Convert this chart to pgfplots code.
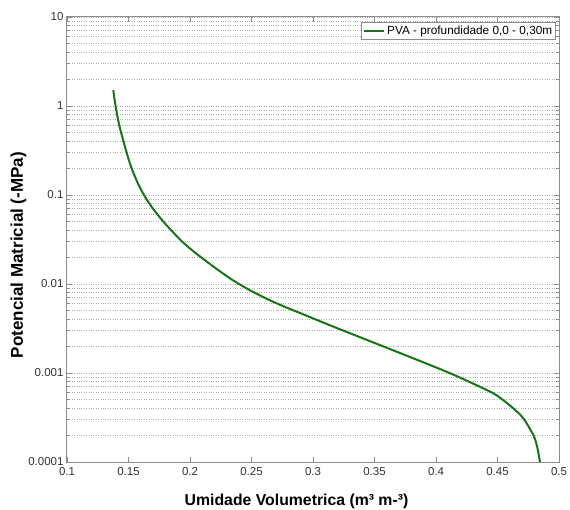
\documentclass[border=0pt]{standalone}
\usepackage{fontspec}
\setmainfont{Liberation Sans}
\usepackage{pgfplots}
\pgfplotsset{compat=1.18}
\definecolor{curvegreen}{RGB}{25,115,25}
\definecolor{gridgray}{RGB}{175,175,175}
\definecolor{axisgray}{RGB}{140,140,140}
\begin{document}
\begin{tikzpicture}
\path[use as bounding box] (-67pt,-48pt) rectangle (503pt,462pt);
\begin{axis}[
  scale only axis,
  width=492pt, height=445pt,
  xmin=0.1, xmax=0.5,
  ymode=log, ymin=1e-4, ymax=10,
  xtick={0.1,0.15,0.2,0.25,0.3,0.35,0.4,0.45,0.5},
  xticklabels={0.1,0.15,0.2,0.25,0.3,0.35,0.4,0.45,0.5},
  ytick={1e-4,1e-3,1e-2,1e-1,1,10},
  yticklabels={0.0001,0.001,0.01,0.1,1,10},
  /pgf/number format/assume math mode=true,
  tick label style={font=\fontsize{11.5}{13}\selectfont, text=black!80},
  xticklabel style={yshift=-2pt},
  tick align=inside,
  tick pos=both,
  major tick length=5pt,
  minor tick length=3pt,
  every tick/.style={axisgray, line width=0.6pt},
  axis line style={axisgray, line width=1pt},
  ymajorgrids, yminorgrids,
  major grid style={gridgray, dotted, line width=0.6pt},
  minor grid style={gridgray, dotted, line width=0.6pt},
  xlabel={\textbf{Umidade Volumetrica (m³ m-³)}},
  ylabel={\textbf{Potencial Matricial (-MPa)}},
  xlabel style={at={(ticklabel cs:0.4665)}, font=\fontsize{15.8}{17}\selectfont, yshift=-12pt},
  ylabel style={at={(ticklabel cs:0.465)}, font=\fontsize{17}{18}\selectfont, yshift=-5pt},
  legend style={at={(rel axis cs:0.994,0.989)}, anchor=north east,
    font=\fontsize{11.8}{13}\selectfont, draw=axisgray, line width=0.6pt,
    inner sep=1.5pt, row sep=0pt},
  legend image code/.code={\draw[#1] (0pt,0pt) -- (20pt,0pt);},
  legend cell align=left,
]
\addplot[curvegreen, line width=2pt, smooth, tension=0.5] coordinates {
(0.13764,1.513)
(0.13886,1.138)
(0.14049,0.834)
(0.14244,0.6114)
(0.14496,0.4483)
(0.14984,0.2585)
(0.15309,0.1910)
(0.15732,0.1382)
(0.16098,0.1095)
(0.16480,0.08902)
(0.16951,0.07145)
(0.17423,0.05886)
(0.17967,0.04783)
(0.18642,0.03791)
(0.19309,0.03042)
(0.20000,0.02506)
(0.20813,0.02037)
(0.22171,0.01474)
(0.23520,0.01095)
(0.24878,0.008497)
(0.26236,0.006821)
(0.27585,0.005630)
(0.28943,0.004722)
(0.31382,0.003436)
(0.34090,0.002441)
(0.36805,0.001735)
(0.39512,0.001230)
(0.41138,0.0009948)
(0.42764,0.0007894)
(0.44659,0.0005914)
(0.45447,0.0004972)
(0.46285,0.0004012)
(0.47098,0.0003097)
(0.47911,0.0002011)
(0.48211,0.0001512)
(0.48455,0.0001)
};
\addlegendentry{PVA - profundidade 0,0 - 0,30m}
\end{axis}
\end{tikzpicture}
\end{document}
